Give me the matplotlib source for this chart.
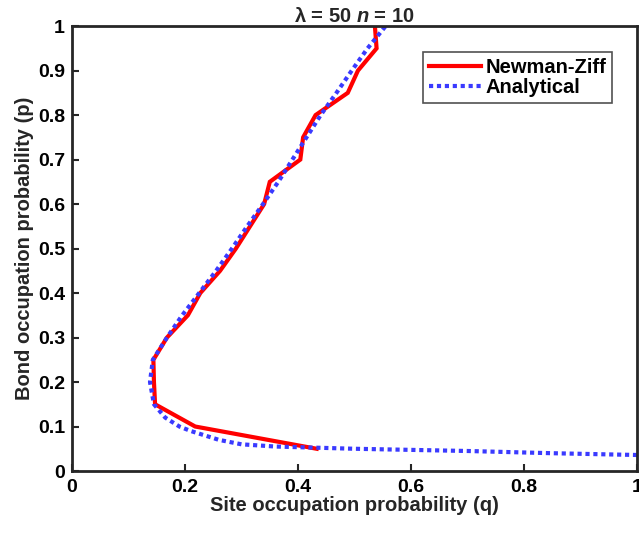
import matplotlib
matplotlib.use("Agg")
import matplotlib.pyplot as plt

plt.rcParams['font.family'] = ['Liberation Sans', 'DejaVu Sans']
plt.rcParams['font.weight'] = 'bold'
plt.rcParams['mathtext.fontset'] = 'custom'
plt.rcParams['mathtext.it'] = 'Liberation Sans:italic:bold'
plt.rcParams['mathtext.rm'] = 'Liberation Sans:bold'

# Newman-Ziff simulation: bond probability p vs site probability q
nz_p = [0.05, 0.1, 0.15, 0.2, 0.25, 0.3, 0.35, 0.4, 0.45, 0.5,
        0.55, 0.6, 0.65, 0.7, 0.75, 0.8, 0.85, 0.9, 0.95, 1.0]
nz_q = [0.433, 0.218, 0.147, 0.145, 0.144, 0.168, 0.205, 0.227, 0.262, 0.29,
        0.315, 0.34, 0.35, 0.404, 0.409, 0.431, 0.488, 0.506, 0.539, 0.536]

# Analytical curve
an_p = [0.036, 0.04, 0.045, 0.05, 0.055, 0.06, 0.07, 0.08, 0.09, 0.1,
        0.12, 0.15, 0.2, 0.25, 0.3, 0.35, 0.4, 0.45, 0.5, 0.55,
        0.6, 0.65, 0.7, 0.75, 0.8, 0.85, 0.9, 0.95, 1.0]
an_q = [1.0, 0.85, 0.70, 0.50, 0.36, 0.30, 0.26, 0.235, 0.21, 0.19,
        0.165, 0.145, 0.138, 0.143, 0.168, 0.195, 0.225, 0.255, 0.283, 0.31,
        0.338, 0.365, 0.39, 0.415, 0.44, 0.468, 0.495, 0.523, 0.555]

xticks = [0, 0.2, 0.4, 0.6, 0.8, 1]
xtick_labels = ['0', '0.2', '0.4', '0.6', '0.8', '1']
yticks = [0, 0.1, 0.2, 0.3, 0.4, 0.5, 0.6, 0.7, 0.8, 0.9, 1]
ytick_labels = ['0', '0.1', '0.2', '0.3', '0.4', '0.5', '0.6', '0.7', '0.8', '0.9', '1']

fig = plt.figure(figsize=(6.39, 5.33), dpi=100)
ax = fig.add_axes([0.1127, 0.1163, 0.8843, 0.8347])

ax.plot(nz_q, nz_p, color='#ff0000', lw=3.0, label='Newman-Ziff', solid_joinstyle='miter')
ax.plot(an_q, an_p, color='#3a3aff', lw=3.0, linestyle=(0, (1.0, 0.9)), label='Analytical')

ax.set_xlim(0, 1)
ax.set_ylim(0, 1)
ax.set_xticks(xticks)
ax.set_xticklabels(xtick_labels)
ax.set_yticks(yticks)
ax.set_yticklabels(ytick_labels)
ax.tick_params(direction='in', length=5, width=1.5, labelsize=14, colors='#262626')
ax.tick_params(axis='x', pad=6)
ax.tick_params(axis='y', pad=5)
for lab in ax.get_xticklabels() + ax.get_yticklabels():
    lab.set_fontweight('bold')
    lab.set_color('black')
for s in ax.spines.values():
    s.set_linewidth(2.0)
    s.set_color('#262626')

ax.set_xlabel('Site occupation probability (q)', fontsize=14.5, fontweight='bold', labelpad=0, color='#262626')
ax.set_ylabel('Bond occupation probability (p)', fontsize=14.5, fontweight='bold', labelpad=3, color='#262626')
ax.set_title('λ = 50 $n$ = 10', fontsize=14.5, fontweight='bold', pad=3, color='#262626')

leg = ax.legend(loc='upper right', bbox_to_anchor=(0.956, 0.942),
                prop={'weight': 'bold', 'size': 14.5}, frameon=True, fancybox=False,
                edgecolor='#262626', handlelength=2.6, handletextpad=0.2,
                borderpad=0.3, labelspacing=0.05, borderaxespad=0)
leg.get_frame().set_linewidth(1.2)

fig.savefig('out.png', dpi=100)
